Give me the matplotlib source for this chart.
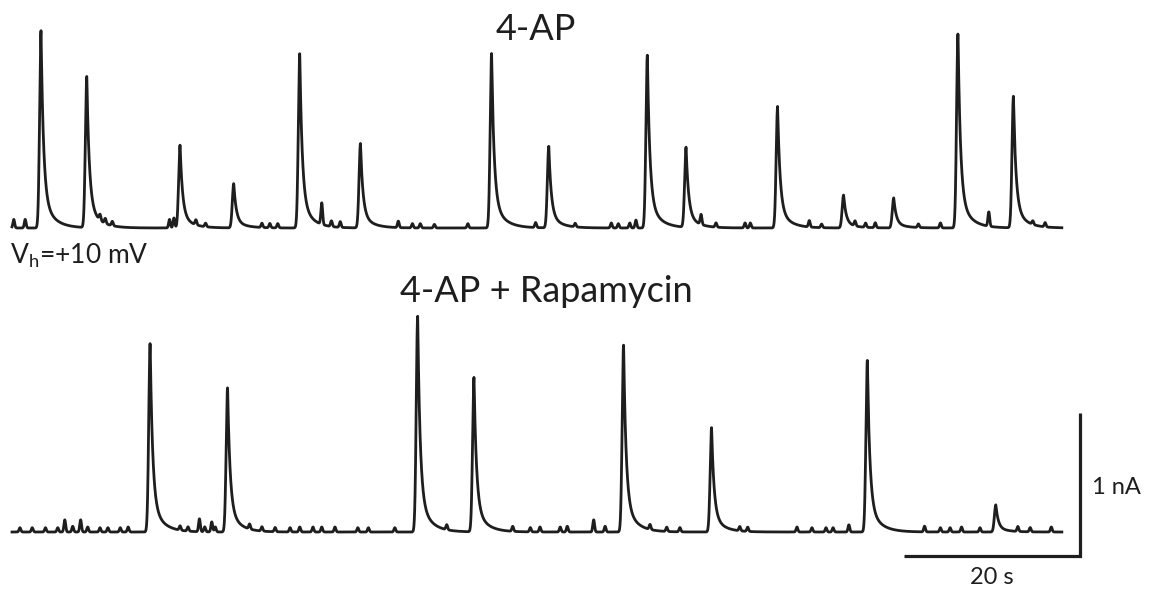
import numpy as np
import matplotlib
matplotlib.use("Agg")
import matplotlib.pyplot as plt

plt.rcParams['font.family'] = ['Lato', 'DejaVu Sans']

## Data (peak time in s, peak amplitude in nA above baseline)

rec_len = 119.3  # s

top_peak_t = [3.3, 8.5, 19.1, 25.2, 32.7, 39.6, 54.5, 61.0, 72.2, 76.6, 87.0, 94.5, 100.2, 107.5, 113.8]
top_peak_a = [1.38, 1.06, 0.58, 0.31, 1.22, 0.59, 1.22, 0.57, 1.21, 0.56, 0.85, 0.23, 0.21, 1.36, 0.92]

bot_peak_t = [15.7, 24.5, 46.1, 52.5, 69.5, 79.5, 97.2, 111.8]
bot_peak_a = [1.32, 1.01, 1.51, 1.08, 1.31, 0.73, 1.20, 0.19]

# small spontaneous events on the baseline (s, nA)
top_blip_t = [0.2, 1.5, 10.0, 10.6, 11.4, 17.9, 18.4, 20.9, 22.0, 28.4, 29.3, 30.2, 35.2, 36.3, 37.3,
              43.9, 45.5, 46.4, 48.0, 51.8, 59.5, 64.0, 68.1, 68.9, 70.2, 70.9, 78.3, 80.0, 83.3, 83.9,
              90.6, 92.0, 95.8, 97.0, 98.1, 103.0, 105.5, 111.0, 116.0, 117.4]
top_blip_a = [0.06, 0.06, 0.04, 0.035, 0.03, 0.06, 0.07, 0.035, 0.025, 0.03, 0.03, 0.03, 0.15, 0.04, 0.04,
              0.045, 0.03, 0.03, 0.025, 0.03, 0.035, 0.025, 0.035, 0.03, 0.035, 0.055, 0.07, 0.03, 0.035, 0.035,
              0.045, 0.025, 0.035, 0.03, 0.035, 0.025, 0.035, 0.10, 0.025, 0.03]

bot_blip_t = [0.9, 2.3, 3.8, 5.2, 6.0, 6.9, 7.8, 8.6, 10.0, 10.9, 12.3, 13.2, 19.1, 20.0,
              21.3, 21.9, 22.7, 23.1, 27.0, 28.4, 29.9, 31.6, 32.7, 34.2, 35.2, 36.7, 39.3,
              40.5, 43.5, 49.4, 56.9, 58.9, 60.0, 62.3, 63.1, 66.1, 67.4, 72.5, 74.4, 75.9,
              82.7, 83.6, 89.2, 90.9, 92.5, 93.3, 95.1, 103.7, 105.5, 106.6, 107.9, 110.0,
              114.3, 115.7, 118.1]
bot_blip_a = [0.03, 0.03, 0.03, 0.03, 0.085, 0.04, 0.085, 0.035, 0.03, 0.03, 0.03, 0.035, 0.03, 0.03,
              0.09, 0.035, 0.07, 0.035, 0.035, 0.03, 0.03, 0.03, 0.035, 0.035, 0.035, 0.035, 0.03,
              0.03, 0.03, 0.035, 0.035, 0.03, 0.035, 0.035, 0.04, 0.085, 0.04, 0.035, 0.03, 0.03,
              0.03, 0.03, 0.035, 0.03, 0.03, 0.03, 0.05, 0.04, 0.03, 0.03, 0.035, 0.03,
              0.035, 0.03, 0.035]

scale_t = 20   # s
scale_i = 1    # nA

## Trace building

t = np.linspace(0, rec_len, 8000)


def event(t, tp, amp, rise=0.16, tau_f=0.28, tau_s=1.2, frac_s=0.17):
    dt = t - tp
    up = np.exp(-0.5 * (dt / rise) ** 2)
    down = (1 - frac_s) * np.exp(-dt / tau_f) + frac_s * np.exp(-dt / tau_s)
    return amp * np.where(dt < 0, up, down)


def blip(t, tb, amp, w=0.1):
    return amp * np.exp(-0.5 * ((t - tb) / w) ** 2)


def build(peak_t, peak_a, blip_t, blip_a):
    y = np.zeros_like(t)
    for tp, a in zip(peak_t, peak_a):
        y += event(t, tp, a)
    for tb, a in zip(blip_t, blip_a):
        y += blip(t, tb, a)
    return y


top = build(top_peak_t, top_peak_a, top_blip_t, top_blip_a)
bot = build(bot_peak_t, bot_peak_a, bot_blip_t, bot_blip_a)

top_offset = 2.126  # nA, vertical separation of the two sweeps

## Plot

fig = plt.figure(figsize=(11.51, 5.90), dpi=100)
ax = fig.add_axes([0, 0, 1, 1])
ax.set_xlim(-12 / 8.8, (1151 - 12) / 8.8)
ax.set_ylim(-58 / 143, 532 / 143)
ax.axis('off')

col = '#1e1e1e'
ax.plot(t, top + top_offset, color=col, lw=2.0, solid_joinstyle='round')
ax.plot(t, bot, color=col, lw=2.0, solid_joinstyle='round')

# scale bars
x0, y0 = 121.36, -0.168
ax.plot([x0 - scale_t, x0, x0], [y0, y0, y0 + scale_i], color=col, lw=2.3,
        solid_joinstyle='miter', solid_capstyle='butt')

fig.text(536 / 1151, 1 - 30 / 590, '4-AP', ha='center', va='center', fontsize=26, color=col)
fig.text(546 / 1151, 1 - 292 / 590, '4-AP + Rapamycin', ha='center', va='center', fontsize=26, color=col)
fig.text(10 / 1151, 1 - 256 / 590, r'V$_\mathregular{h}$=+10 mV', ha='left', va='center', fontsize=19, color=col)
fig.text(1092 / 1151, 1 - 488 / 590, '1 nA', ha='left', va='center', fontsize=17, color=col)
fig.text(992 / 1151, 1 - 578 / 590, '20 s', ha='center', va='center', fontsize=17, color=col)

fig.savefig('out.png', dpi=100)
